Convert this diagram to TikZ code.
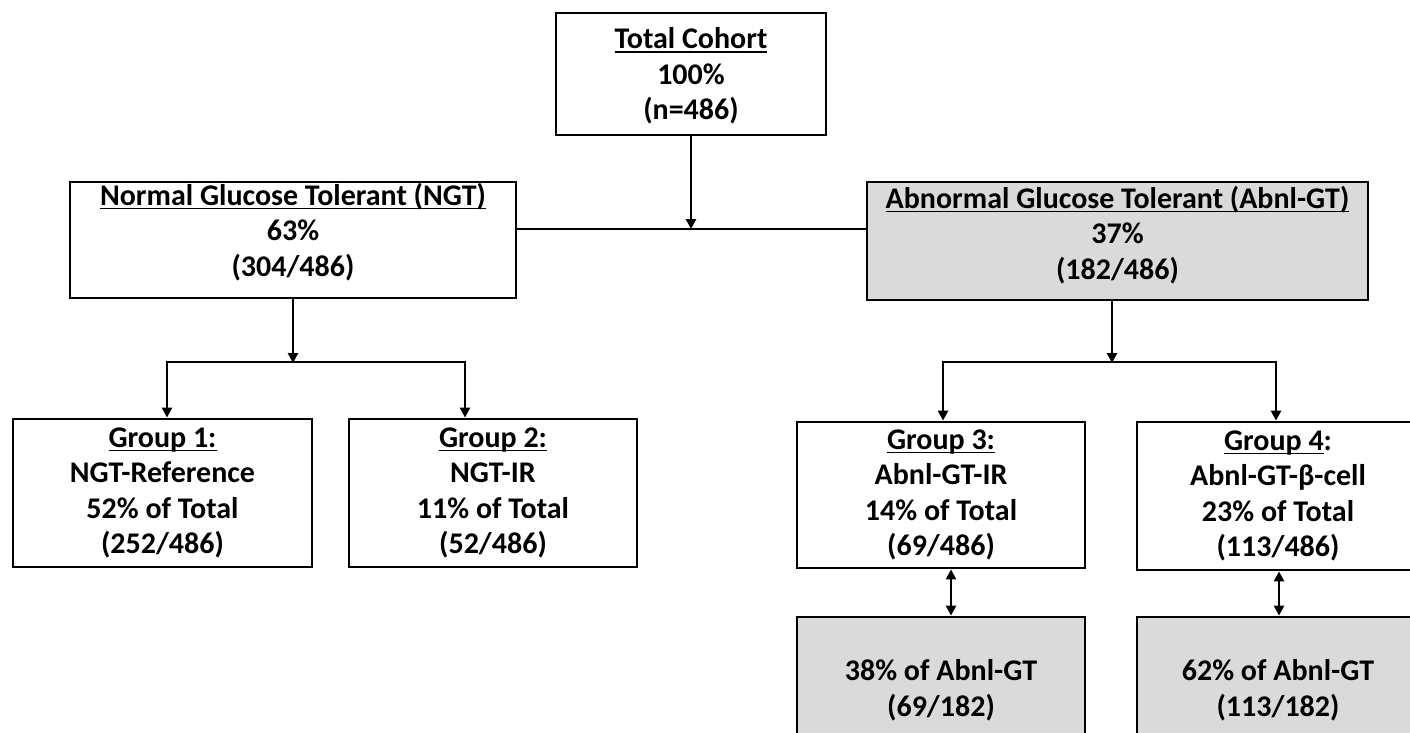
\documentclass[tikz,border=0pt]{standalone}
\usepackage{fontspec}
\setmainfont{Carlito}
\usetikzlibrary{arrows.meta}
\definecolor{boxgray}{RGB}{218,218,218}
\newcommand{\ulbox}[1]{\setbox0=\hbox{#1}\rlap{\rule[-4pt]{\wd0}{1.8pt}}\box0}
\begin{document}
\begin{tikzpicture}[x=1pt,y=-1pt,
  txt/.style={align=center, inner sep=0pt, font=\fontsize{30}{35.5}\selectfont\bfseries},
  box/.style={txt, draw, line width=2.8pt},
  gbox/.style={box, fill=boxgray},
  conn/.style={line width=2.5pt, line join=miter},
  arr/.style={conn, -{Triangle[length=10pt,width=10pt]}},
  darr/.style={conn, {Triangle[length=10pt,width=10pt]}-{Triangle[length=10pt,width=10pt]}}]
\useasboundingbox (0,0) rectangle (1410,733);
\clip (0,0) rectangle (1410,733);
\fill[white] (0,0) rectangle (1410,733);

\node[box, minimum width=270pt, minimum height=122pt] (tot) at (691,74) {};
\node[txt] (totT) at (691,76) {\ulbox{Total Cohort}\\100\%\\(n=486)};
\node[box, minimum width=446pt, minimum height=116pt] (ngt) at (293,240) {};
\node[txt] (ngtT) at (293,232) {\ulbox{Normal Glucose Tolerant (NGT)}\\63\%\\(304/486)};
\node[gbox, minimum width=501pt, minimum height=118pt] (abn) at (1117.5,241) {};
\node[txt] (abnT) at (1117.5,235) {\ulbox{Abnormal Glucose Tolerant (Abnl-GT)}\\37\%\\(182/486)};

\node[box, minimum width=299pt, minimum height=148pt] (g1) at (162.5,493) {\ulbox{Group 1:}\\NGT-Reference\\52\% of Total\\(252/486)};
\node[box, minimum width=288pt, minimum height=148pt] (g2) at (493,493) {\ulbox{Group 2:}\\NGT-IR\\11\% of Total\\(52/486)};
\node[box, minimum width=288pt, minimum height=146pt] (g3) at (941,495) {\ulbox{Group 3:}\\Abnl-GT-IR\\14\% of Total\\(69/486)};
\node[box, minimum width=282pt, minimum height=148pt] (g4) at (1278,496) {\ulbox{Group 4}:\\Abnl-GT-β-cell\\23\% of Total\\(113/486)};

\node[gbox, minimum width=288pt, minimum height=146pt] (p3) at (941,690) {38\% of Abnl-GT\\(69/182)};
\node[gbox, minimum width=282pt, minimum height=146pt] (p4) at (1278,690) {62\% of Abnl-GT\\(113/182)};

% top junction
\coordinate (tj) at (691,229);
\draw[conn] (ngt.east |- tj) -- (abn.west |- tj);
\draw[arr] (tot.south) -- (tj);

% NGT branch
\coordinate (nj) at (293,362);
\coordinate (nl) at (167,362);
\coordinate (nr) at (465,362);
\draw[arr] (ngt.south) -- ([yshift=-1pt]nj);
\draw[arr] (nj) -- (nl) -- (nl |- g1.north);
\draw[arr] (nj) -- (nr) -- (nr |- g2.north);

% Abnl branch
\coordinate (aj) at (1112,362);
\coordinate (al) at (943,362);
\coordinate (ar) at (1276,362);
\draw[arr] (aj |- abn.south) -- ([yshift=-1pt]aj);
\draw[arr] (aj) -- (al) -- (al |- g3.north);
\draw[arr] (aj) -- (ar) -- (ar |- g4.north);

% double arrows
\draw[darr] ([xshift=10pt]g3.south) -- ([xshift=10pt]p3.north);
\draw[darr] ([xshift=1pt]g4.south) -- ([xshift=1pt]p4.north);
\end{tikzpicture}
\end{document}
